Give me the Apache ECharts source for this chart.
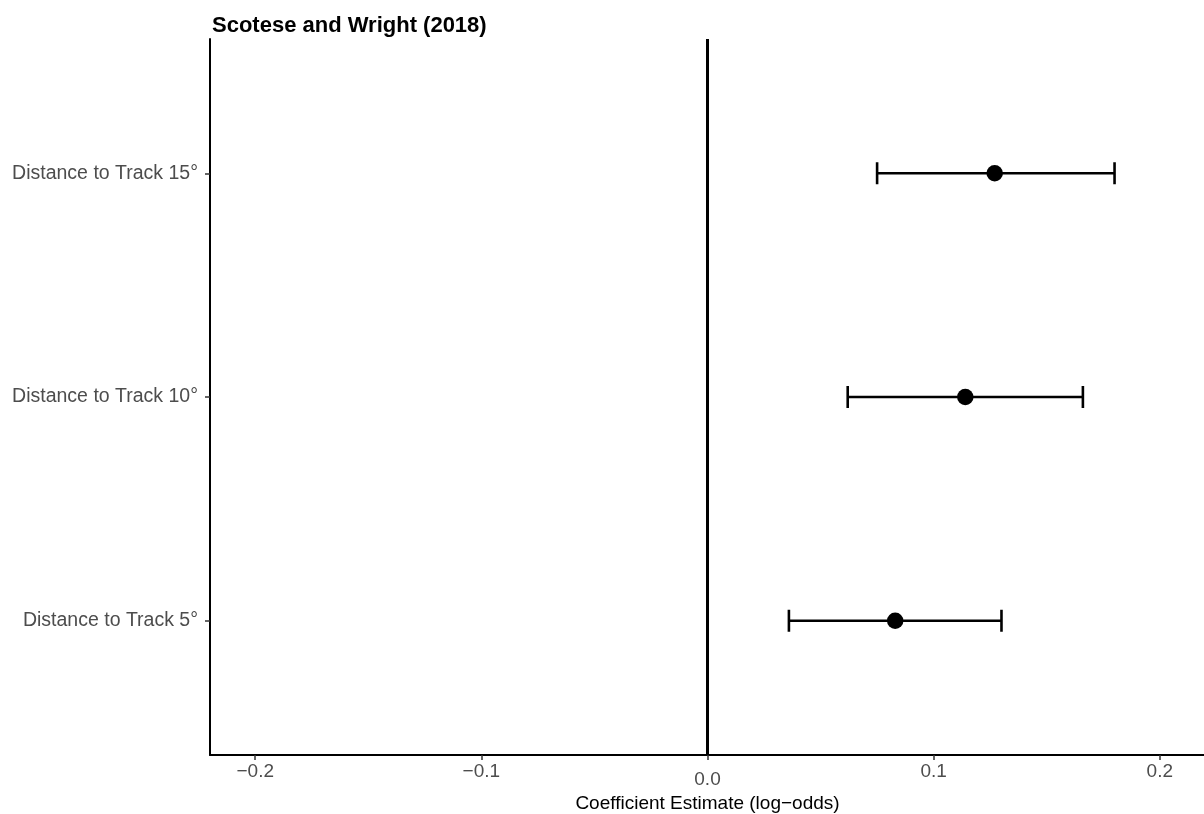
<!DOCTYPE html>
<html>
<head>
<meta charset="utf-8">
<title>Scotese and Wright (2018)</title>
<script src="https://cdn.jsdelivr.net/npm/echarts@6/dist/echarts.min.js"></script>
<style>
  html, body { margin: 0; padding: 0; background: #ffffff; }
  #chart { width: 1204px; height: 814px; }
</style>
</head>
<body>
<div id="chart"></div>
<script>
// Model terms, bottom to top
const categories = ['Distance to Track 5°', 'Distance to Track 10°', 'Distance to Track 15°'];
// Coefficient estimates (log-odds) and their interval bounds
const estimates = [0.083, 0.114, 0.127];
const lower = [0.036, 0.062, 0.075];
const upper = [0.130, 0.166, 0.180];
// x-axis tick positions
const xTicks = [-0.2, -0.1, 0.0, 0.1, 0.2];

const FONT = '"Liberation Sans", Arial, sans-serif';
const yPos = categories.map((_, i) => i + 1);

const chart = echarts.init(document.getElementById('chart'), null, { renderer: 'canvas' });

const fmtTick = v => {
  const s = Math.abs(v).toFixed(1);
  if (Math.abs(v) < 1e-9) return '{z|0.0}';
  return (v < 0 ? '\u2212' : '') + s;
};

chart.setOption({
  animation: false,
  backgroundColor: '#ffffff',
  title: {
    text: 'Scotese and Wright (2018)',
    left: 207,
    top: 10,
    textStyle: { fontFamily: FONT, fontSize: 22, fontWeight: 'bold', color: '#000000' }
  },
  grid: { left: 210, top: 39, width: 995, bottom: 59, containLabel: false, outerBoundsMode: 'none' },
  xAxis: {
    type: 'value',
    min: -0.22,
    max: 0.22,
    splitLine: { show: false },
    axisLine: { show: true, onZero: false, lineStyle: { color: '#000000', width: 2 } },
    axisTick: { show: true, customValues: xTicks, length: 5, lineStyle: { color: '#333333', width: 1.5 } },
    axisLabel: {
      customValues: xTicks,
      margin: 7,
      formatter: fmtTick,
      fontFamily: FONT,
      fontSize: 19,
      color: '#4d4d4d',
      rich: { z: { fontFamily: FONT, fontSize: 19, color: '#4d4d4d', padding: [8, 0, 0, 0] } }
    },
    name: 'Coefficient Estimate (log\u2212odds)',
    nameLocation: 'middle',
    nameGap: 24,
    nameTextStyle: { fontFamily: FONT, fontSize: 19, color: '#000000' }
  },
  yAxis: {
    type: 'value',
    min: 0.4,
    max: 3.6,
    splitLine: { show: false },
    axisLine: { show: true, onZero: false, lineStyle: { color: '#000000', width: 2 } },
    axisTick: { show: true, customValues: yPos, length: 5, lineStyle: { color: '#333333', width: 1.5 } },
    axisLabel: {
      customValues: yPos,
      margin: 12,
      formatter: v => categories[Math.round(v) - 1] || '',
      fontFamily: FONT,
      fontSize: 19.5,
      color: '#4d4d4d'
    }
  },
  series: [
    {
      // reference line at zero
      type: 'line',
      data: [[0, 0.4], [0, 3.6]],
      symbol: 'none',
      lineStyle: { color: '#000000', width: 3 },
      z: 1,
      silent: true
    },
    {
      // horizontal interval bars with end caps
      type: 'custom',
      data: categories.map((_, i) => [lower[i], upper[i], yPos[i]]),
      renderItem: (params, api) => {
        const lo = api.coord([api.value(0), api.value(2)]);
        const hi = api.coord([api.value(1), api.value(2)]);
        const cap = 11;
        const style = { stroke: '#000000', lineWidth: 2.6, fill: null };
        return {
          type: 'group',
          children: [
            { type: 'line', shape: { x1: lo[0], y1: lo[1], x2: hi[0], y2: hi[1] }, style },
            { type: 'line', shape: { x1: lo[0], y1: lo[1] - cap, x2: lo[0], y2: lo[1] + cap }, style },
            { type: 'line', shape: { x1: hi[0], y1: hi[1] - cap, x2: hi[0], y2: hi[1] + cap }, style }
          ]
        };
      },
      z: 2,
      silent: true
    },
    {
      // point estimates
      type: 'scatter',
      data: categories.map((_, i) => [estimates[i], yPos[i]]),
      symbol: 'circle',
      symbolSize: 16.5,
      itemStyle: { color: '#000000', opacity: 1 },
      z: 3,
      silent: true
    }
  ]
});
</script>
</body>
</html>
